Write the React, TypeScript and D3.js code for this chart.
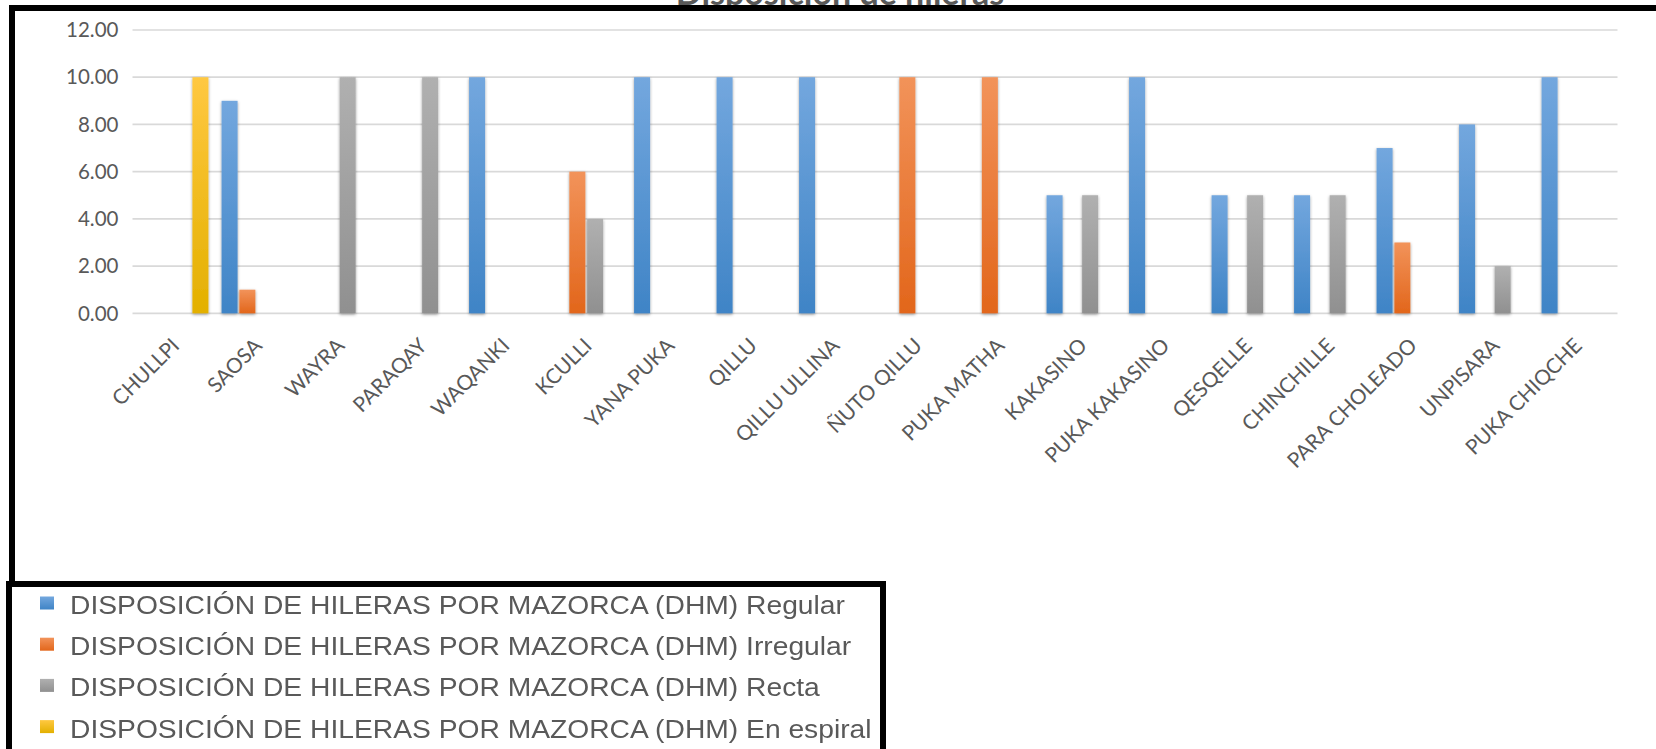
import React from 'react';
import * as d3 from 'd3';

// Maize landraces (categories on the x axis)
const categories = [
  'CHULLPI', 'SAOSA', 'WAYRA', 'PARAQAY', 'WAQANKI', 'KCULLI', 'YANA PUKA', 'QILLU',
  'QILLU ULLINA', 'ÑUTO QILLU', 'PUKA MATHA', 'KAKASINO', 'PUKA KAKASINO', 'QESQELLE',
  'CHINCHILLE', 'PARA CHOLEADO', 'UNPISARA', 'PUKA CHIQCHE',
];

// Row arrangement per cob (DHM), one array per series
const regular = [0, 9, 0, 0, 10, 0, 10, 10, 10, 0, 0, 5, 10, 5, 5, 7, 8, 10];
const irregular = [0, 1, 0, 0, 0, 6, 0, 0, 0, 10, 10, 0, 0, 0, 0, 3, 0, 0];
const recta = [0, 0, 10, 10, 0, 4, 0, 0, 0, 0, 0, 5, 0, 5, 5, 0, 2, 0];
const espiral = [10, 0, 0, 0, 0, 0, 0, 0, 0, 0, 0, 0, 0, 0, 0, 0, 0, 0];

const seriesNames = [
  'DISPOSICIÓN DE HILERAS POR MAZORCA (DHM) Regular',
  'DISPOSICIÓN DE HILERAS POR MAZORCA (DHM) Irregular',
  'DISPOSICIÓN DE HILERAS POR MAZORCA (DHM) Recta',
  'DISPOSICIÓN DE HILERAS POR MAZORCA (DHM) En espiral',
];
const seriesValues = [regular, irregular, recta, espiral];

const yTicks = [0, 2, 4, 6, 8, 10, 12];
const chartTitle = 'Disposición de hileras';

// Gradient stops (top, bottom) for each series
const seriesColors: [string, string][] = [
  ['#73A7DE', '#3F84C6'],
  ['#F2935A', '#E2661B'],
  ['#B0B0B0', '#909090'],
  ['#FFC841', '#E3B000'],
];

const W = 1656;
const H = 749;
const plotLeft = 132.5;
const plotRight = 1617.5;
const plotTop = 30;
const plotBottom = 313.3;

const tickFont = 'Lato, "Open Sans", sans-serif';
const legendFont = '"Liberation Sans", Arial, sans-serif';

export default function App() {
  const keys = seriesNames.map((_, i) => `s${i}`);
  const x0 = d3.scaleBand<string>().domain(categories).range([plotLeft, plotRight]).paddingInner(0).paddingOuter(0);
  const x1 = d3.scaleBand<string>().domain(keys).range([0, x0.bandwidth()]).paddingInner(0.1).paddingOuter(0.37);
  const y = d3.scaleLinear().domain([0, 12]).range([plotBottom, plotTop]);
  const fmt = d3.format('.2f');

  const legendBaselines = [614, 655.2, 696.4, 737.6];

  return (
    <svg
      width={W}
      height={H}
      viewBox={`0 0 ${W} ${H}`}
      style={{ position: 'absolute', left: 0, top: 0, display: 'block', background: '#fff' }}
    >
      <defs>
        {seriesColors.map(([top, bottom], i) => (
          <linearGradient key={i} id={`grad${i}`} x1="0" y1="0" x2="0" y2="1">
            <stop offset="0%" stopColor={top} />
            <stop offset="100%" stopColor={bottom} />
          </linearGradient>
        ))}
        <filter id="barShadow" x="-60%" y="-10%" width="220%" height="120%">
          <feDropShadow dx="0" dy="1.2" stdDeviation="1.8" floodColor="#000" floodOpacity="0.4" />
        </filter>
      </defs>

      <rect x={0} y={0} width={W} height={H} fill="#fff" />

      {/* Title, sitting at the very top edge above the frame */}
      <text
        x={840}
        y={5}
        textAnchor="middle"
        fontFamily={tickFont}
        fontWeight="bold"
        fontSize={34}
        fill="#595959"
      >
        {chartTitle}
      </text>

      {/* Horizontal gridlines */}
      {yTicks.map((t) => (
        <line key={t} x1={plotLeft} x2={plotRight} y1={y(t)} y2={y(t)} stroke="#D9D9D9" strokeWidth={1.7} />
      ))}

      {/* Y axis tick labels */}
      {yTicks.map((t) => (
        <text
          key={`yl${t}`}
          x={118.5}
          y={y(t) + 7.2}
          textAnchor="end"
          fontFamily={tickFont}
          fontSize={20.5}
          fill="#595959"
        >
          {fmt(t)}
        </text>
      ))}

      {/* Bars */}
      <g filter="url(#barShadow)">
        {categories.map((c, ci) => (
          <g key={c} transform={`translate(${x0(c)},0)`}>
            {seriesValues.map((vals, si) =>
              vals[ci] > 0 ? (
                <rect
                  key={si}
                  x={x1(keys[si])}
                  y={y(vals[ci])}
                  width={x1.bandwidth()}
                  height={plotBottom - y(vals[ci])}
                  fill={`url(#grad${si})`}
                />
              ) : null
            )}
          </g>
        ))}
      </g>

      {/* Category labels */}
      {categories.map((c) => {
        const cx = (x0(c) as number) + x0.bandwidth() / 2;
        return (
          <text
            key={`cl${c}`}
            transform={`translate(${cx + 7},${347}) rotate(-45)`}
            textAnchor="end"
            fontFamily={tickFont}
            fontSize={20.8}
            fill="#595959"
          >
            {c}
          </text>
        );
      })}

      {/* Chart frame */}
      <rect x={9} y={5} width={W - 9} height={6} fill="#000" />
      <rect x={9} y={5} width={6} height={H - 5} fill="#000" />

      {/* Legend box */}
      <rect x={9} y={584} width={874} height={170} fill="#fff" stroke="#000" strokeWidth={6} />
      {seriesNames.map((name, i) => (
        <g key={name}>
          <rect x={40} y={legendBaselines[i] - 17.5} width={14} height={13} fill={`url(#grad${i})`} />
          <text
            transform={`translate(70,${legendBaselines[i]}) scale(1.13,1)`}
            fontFamily={legendFont}
            fontSize={25}
            fill="#595959"
          >
            {name}
          </text>
        </g>
      ))}
    </svg>
  );
}
